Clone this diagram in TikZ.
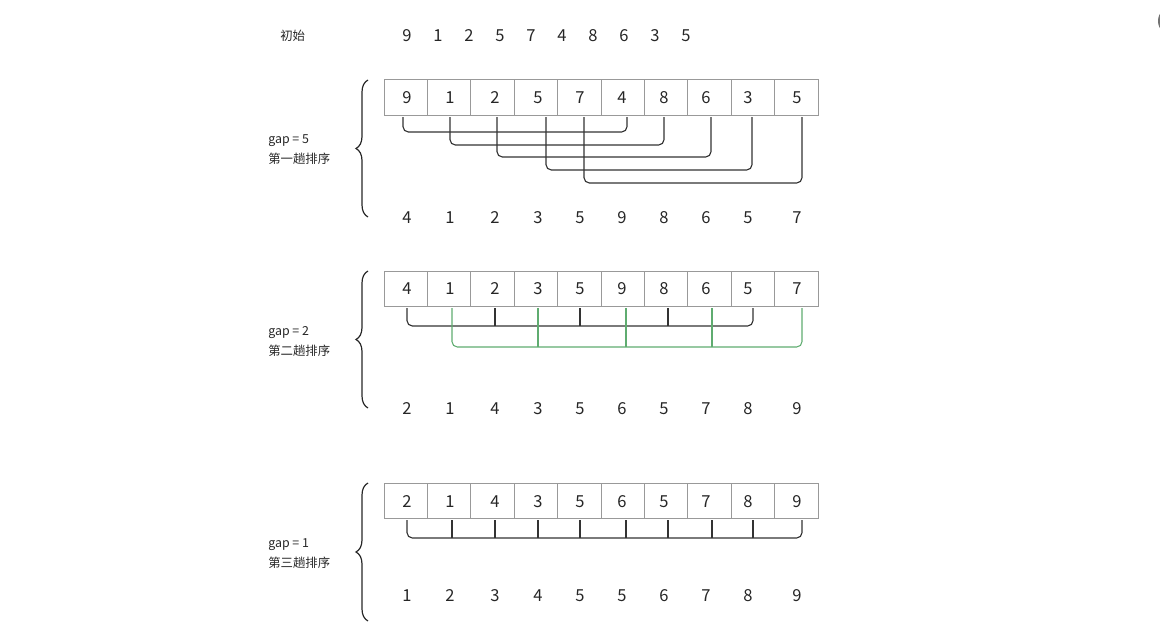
\documentclass[tikz,border=0pt]{standalone}
\usepackage{fontspec}
\setmainfont{Noto Sans CJK SC}
\usetikzlibrary{decorations.pathreplacing,calc}
\definecolor{grline}{RGB}{95,172,112}
\tikzset{
  >=stealth,
  cell/.style ={draw=black!40, line width=0.75pt, minimum width=32.55pt, minimum height=26.25pt, inner sep=0pt, outer sep=0pt},
  num/.style  ={font=\fontsize{12.4}{14}\selectfont, text=black!85, inner sep=0pt, anchor=base, yshift=-4.8pt},
  lbl/.style  ={font=\fontsize{9.3}{12}\selectfont, text=black!85, anchor=west, inner sep=0pt},
  pair/.style ={draw=black!80, line width=0.85pt, rounded corners=4pt, shorten <=1.5pt},
  gpair/.style={draw=grline, line width=0.8pt, rounded corners=4pt, shorten <=1.5pt},
  grp/.style  ={decorate, decoration={brace, amplitude=9pt}, draw=black!85, line width=0.9pt},
}

\begin{document}
\begin{tikzpicture}[x=0.75pt, y=-0.75pt]
  \useasboundingbox (0,0) rectangle (1160,635);

  % column positions of the digits and of the bracket ticks
  \foreach \x [count=\i] in {407,450,495,538,580,622,664,706,748,797}
    \coordinate (x\i) at (\x,0);
  \foreach \x [count=\i] in {407,452,495,538,580,626,668,712,753,802}
    \coordinate (k\i) at (\x,0);

  % initial sequence
  \node[lbl] (init) at (280,36) {初始};
  \foreach \v [count=\i] in {9,1,2,5,7,4,8,6,3,5}
    \node[num] (s\i) at ({407+31*(\i-1)},35) {\v};

  % pass 1: gap = 5
  \node[lbl] (g1) at (268,141) {gap = 5};
  \node[lbl] (t1) at (268,159) {第一趟排序};
  \draw[grp] (368,217) -- (368,80);
  \foreach \i in {1,...,10}
    \node[cell, anchor=north west] (a\i) at ({384+43.4*(\i-1)},80) {};
  \foreach \v [count=\i] in {9,1,2,5,7,4,8,6,3,5}
    \node[num] (av\i) at (x\i |- 0,97) {\v};
  \foreach \l/\r/\xl/\xr/\y in {1/6/403/627/132,2/7/450/664/145,3/8/497/711/157,4/9/546/752/170,5/10/584/802/183}
    \draw[pair, shorten >=1.5pt] (\xl,0 |- a\l.south) |- (\xr,\y) -- (\xr,0 |- a\r.south);
  \foreach \v [count=\i] in {4,1,2,3,5,9,8,6,5,7}
    \node[num] (ao\i) at (x\i |- 0,217) {\v};

  % pass 2: gap = 2
  \node[lbl] (g2) at (268,333) {gap = 2};
  \node[lbl] (t2) at (268,351) {第二趟排序};
  \draw[grp] (368,408) -- (368,271);
  \foreach \i in {1,...,10}
    \node[cell, anchor=north west] (b\i) at ({384+43.4*(\i-1)},271) {};
  \foreach \v [count=\i] in {4,1,2,3,5,9,8,6,5,7}
    \node[num] (bv\i) at (x\i |- 0,288) {\v};
  \draw[pair, shorten >=1.5pt] (k1 |- b1.south) |- (k9 |- 0,326) -- (k9 |- b9.south);
  \foreach \k in {3,5,7}
    \draw[pair] (k\k |- b\k.south) -- (k\k |- 0,326);
  \draw[gpair, shorten >=1.5pt] (k2 |- b2.south) |- (k10 |- 0,347) -- (k10 |- b10.south);
  \foreach \k in {4,6,8}
    \draw[gpair] (k\k |- b\k.south) -- (k\k |- 0,347);
  \foreach \v [count=\i] in {2,1,4,3,5,6,5,7,8,9}
    \node[num] (bo\i) at (x\i |- 0,408) {\v};

  % pass 3: gap = 1
  \node[lbl] (g3) at (268,545) {gap = 1};
  \node[lbl] (t3) at (268,563) {第三趟排序};
  \draw[grp] (368,621) -- (368,483);
  \foreach \i in {1,...,10}
    \node[cell, anchor=north west] (c\i) at ({384+43.4*(\i-1)},483) {};
  \foreach \v [count=\i] in {2,1,4,3,5,6,5,7,8,9}
    \node[num] (cv\i) at (x\i |- 0,501) {\v};
  \draw[pair, shorten >=1.5pt] (k1 |- c1.south) |- (k10 |- 0,538) -- (k10 |- c10.south);
  \foreach \k in {2,...,9}
    \draw[pair] (k\k |- c\k.south) -- (k\k |- 0,538);
  \foreach \v [count=\i] in {1,2,3,4,5,5,6,7,8,9}
    \node[num] (co\i) at (x\i |- 0,595) {\v};

  % corner mark
  \draw[black!55, line width=1.5pt] (1173,21) circle (14);
\end{tikzpicture}
\end{document}
